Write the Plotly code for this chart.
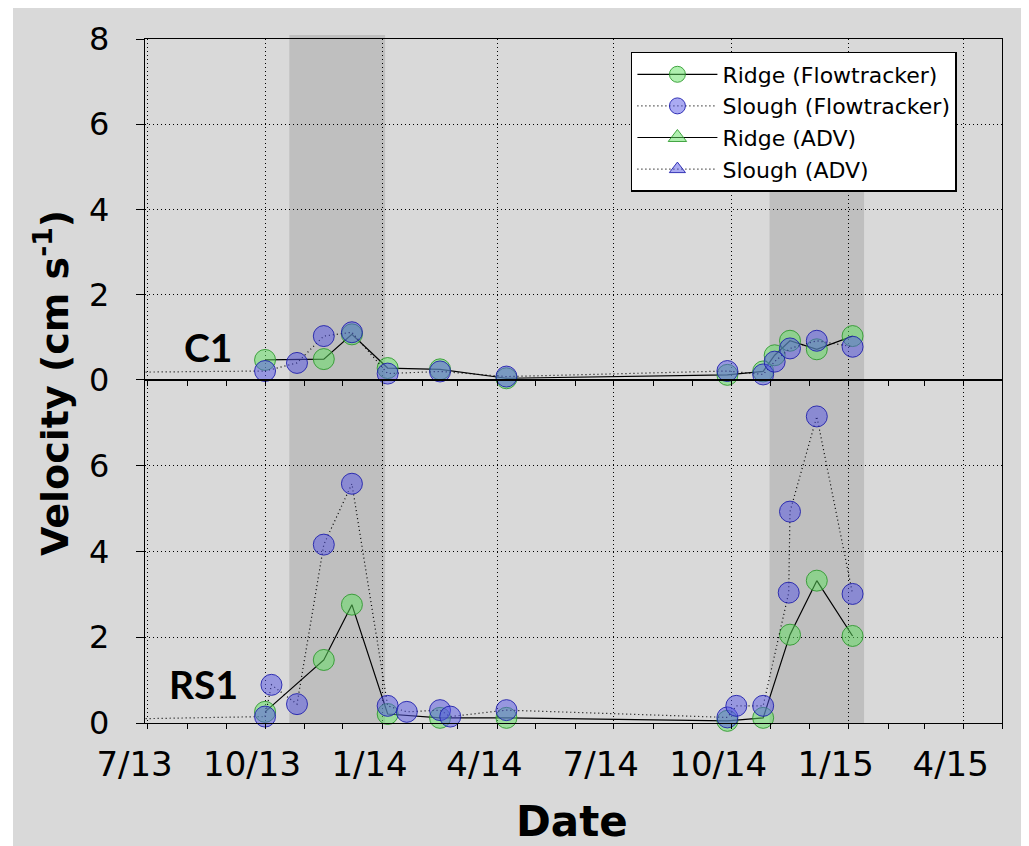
import plotly.graph_objects as go

# ---------------- data ----------------
c1_ridge_dates = ["2013-10-01", "2013-11-16", "2013-12-08", "2014-01-05", "2014-02-15",
                  "2014-04-08", "2014-09-28", "2014-10-26", "2014-11-04", "2014-11-16",
                  "2014-12-07", "2015-01-04"]
c1_ridge_vel = [0.47, 0.49, 1.07, 0.28, 0.25, 0.04, 0.12, 0.20, 0.58, 0.92, 0.72, 1.03]

c1_slough_dates = ["2013-05-01", "2013-10-01", "2013-10-26", "2013-11-16", "2013-12-08",
                   "2014-01-05", "2014-02-15", "2014-04-08", "2014-09-28", "2014-10-26",
                   "2014-11-04", "2014-11-16", "2014-12-07", "2015-01-04"]
c1_slough_vel = [0.17, 0.21, 0.40, 1.03, 1.12, 0.15, 0.20, 0.08, 0.21, 0.13, 0.43, 0.74, 0.92, 0.78]

rs1_ridge_dates = ["2013-10-01", "2013-11-16", "2013-12-08", "2014-01-05", "2014-02-15",
                   "2014-04-08", "2014-09-28", "2014-10-26", "2014-11-16", "2014-12-07",
                   "2015-01-04"]
rs1_ridge_vel = [0.26, 1.47, 2.76, 0.21, 0.12, 0.12, 0.05, 0.12, 2.06, 3.32, 2.03]

rs1_slough_dates = ["2013-05-01", "2013-10-01", "2013-10-06", "2013-10-26", "2013-11-16",
                    "2013-12-08", "2014-01-05", "2014-01-20", "2014-02-15", "2014-02-23",
                    "2014-04-08", "2014-09-28", "2014-10-05", "2014-10-26", "2014-11-15",
                    "2014-11-16", "2014-12-07", "2015-01-04"]
rs1_slough_vel = [0.07, 0.15, 0.89, 0.44, 4.16, 5.58, 0.40, 0.26, 0.30, 0.15, 0.30,
                  0.13, 0.40, 0.40, 3.04, 4.93, 7.15, 3.01]

shade_periods = [("2013-10-20", "2014-01-03"), ("2014-10-31", "2015-01-13")]
shade_tops = [1.006, 0.787]  # paper fraction (second band stops under the legend)

series_names = ["Ridge (Flowtracker)", "Slough (Flowtracker)", "Ridge (ADV)", "Slough (ADV)"]
panel_labels = ["C1", "RS1"]
x_range = ["2013-06-29", "2015-05-01"]

# ---------------- styles ----------------
GREEN_FILL = "rgba(95,225,95,0.50)"
GREEN_LINE = "rgba(40,150,40,0.85)"
BLUE_FILL = "rgba(85,85,230,0.50)"
BLUE_LINE = "rgba(25,25,170,0.85)"
BG = "#d9d9d9"
FONT = "DejaVu Sans"

fig = go.Figure()


def ridge(x, y, xa, ya, name, show):
    return go.Scatter(x=x, y=y, xaxis=xa, yaxis=ya, mode="lines+markers", name=name,
                      showlegend=show, legendrank=1, cliponaxis=False,
                      line=dict(color="black", width=1.2),
                      marker=dict(symbol="circle", size=21, color=GREEN_FILL,
                                  line=dict(color=GREEN_LINE, width=1)))


def slough(x, y, xa, ya, name, show):
    return go.Scatter(x=x, y=y, xaxis=xa, yaxis=ya, mode="lines+markers", name=name,
                      showlegend=show, legendrank=2, cliponaxis=False,
                      line=dict(color="black", width=1.2, dash="1px,3px"),
                      marker=dict(symbol="circle", size=21, color=BLUE_FILL,
                                  line=dict(color=BLUE_LINE, width=1)))


def lead_in(x, y, xa, ya):
    return go.Scatter(x=x, y=y, xaxis=xa, yaxis=ya, mode="lines", showlegend=False,
                      hoverinfo="skip",
                      line=dict(color="black", width=1.2, dash="1px,3px"))


# top panel (C1)
fig.add_trace(lead_in(c1_slough_dates[:2], c1_slough_vel[:2], "x", "y"))
fig.add_trace(ridge(c1_ridge_dates, c1_ridge_vel, "x", "y", series_names[0], True))
fig.add_trace(slough(c1_slough_dates[1:], c1_slough_vel[1:], "x", "y", series_names[1], True))
# bottom panel (RS1)
fig.add_trace(lead_in(rs1_slough_dates[:2], rs1_slough_vel[:2], "x2", "y2"))
fig.add_trace(ridge(rs1_ridge_dates, rs1_ridge_vel, "x2", "y2", series_names[0], False))
fig.add_trace(slough(rs1_slough_dates[1:], rs1_slough_vel[1:], "x2", "y2", series_names[1], False))
# ADV series (legend entries only, no data visible)
fig.add_trace(go.Scatter(x=[None], y=[None], mode="lines+markers", name=series_names[2],
                         legendrank=3, line=dict(color="black", width=1.2),
                         marker=dict(symbol="triangle-up", size=18, color=GREEN_FILL,
                                     line=dict(color=GREEN_LINE, width=1))))
fig.add_trace(go.Scatter(x=[None], y=[None], mode="lines+markers", name=series_names[3],
                         legendrank=4, line=dict(color="black", width=1.2, dash="1px,3px"),
                         marker=dict(symbol="triangle-up", size=14, color=BLUE_FILL,
                                     line=dict(color=BLUE_LINE, width=1))))

# shaded periods
for (x0, x1), top in zip(shade_periods, shade_tops):
    fig.add_shape(type="rect", xref="x2", yref="paper", x0=x0, x1=x1, y0=0, y1=top,
                  fillcolor="#bfbfbf", line=dict(width=0), layer="below")

# thin white strip at the picture's left edge (page margin supplies the rest)
fig.add_shape(type="rect", xref="paper", yref="paper", x0=-0.1599, x1=-0.1540,
              y0=-0.19, y1=1.06, fillcolor="white", line=dict(width=0), layer="below")

xcommon = dict(type="date", range=x_range, tick0="2013-07-01", dtick="M3",
               tickformat="%-m/%y", ticks="outside", ticklen=5, tickwidth=1.2,
               tickcolor="black", showline=True, linecolor="black", linewidth=1.3,
               mirror=True, showgrid=True, gridcolor="black", gridwidth=1,
               griddash="1px,3px", zeroline=False,
               minor=dict(dtick="M1", tick0="2013-07-01", ticks="outside", ticklen=5,
                          tickwidth=1.2, tickcolor="black", showgrid=False))
ycommon = dict(range=[0, 8], ticks="outside", ticklen=8, tickwidth=1.2, tickcolor="black",
               showline=True, linecolor="black", linewidth=1.3, mirror=True,
               showgrid=True, gridcolor="black", gridwidth=1, griddash="1px,3px",
               zeroline=False, tickfont=dict(family=FONT, size=32, color="black"),
               ticklabelstandoff=20)

split = 0.5015
fig.update_layout(
    width=1021, height=838,
    margin=dict(l=137, r=27, t=31, b=123),
    paper_bgcolor=BG, plot_bgcolor=BG,
    font=dict(family=FONT, color="black"),
    xaxis=dict(xcommon, anchor="y", showticklabels=False, matches="x2"),
    xaxis2=dict(xcommon, anchor="y2", tickfont=dict(family=FONT, size=34, color="black"),
                ticklabelshift=-13, ticklabelstandoff=6),
    yaxis=dict(ycommon, domain=[split, 1], anchor="x", tickvals=[0, 2, 4, 6, 8]),
    yaxis2=dict(ycommon, domain=[0, split], anchor="x2", tickvals=[0, 2, 4, 6]),
    legend=dict(x=0.567, y=0.981, xanchor="left", yanchor="top", bgcolor="white",
                bordercolor="black", borderwidth=1.5, traceorder="normal",
                font=dict(family=FONT, size=22, color="black"),
                itemwidth=80, tracegroupgap=0),
    showlegend=True,
    annotations=[
        dict(text="<b>Velocity (cm s<sup>-1</sup>)</b>", xref="paper", yref="paper",
             x=-0.1085, y=0.497, xanchor="center", yanchor="middle", textangle=-90,
             showarrow=False, font=dict(family=FONT, size=38, color="black")),
        dict(text="<b>Date</b>", xref="paper", yref="paper", x=0.498, y=-0.1447,
             xanchor="center", yanchor="middle", showarrow=False,
             font=dict(family=FONT, size=42, color="black")),
        dict(text="<b>" + panel_labels[0] + "</b>", xref="paper", yref="paper",
             x=0.0735, y=0.5497, xanchor="center", yanchor="middle", showarrow=False,
             font=dict(family="Lato", size=39, color="black")),
        dict(text="<b>" + panel_labels[1] + "</b>", xref="paper", yref="paper",
             x=0.0688, y=0.057, xanchor="center", yanchor="middle", showarrow=False,
             font=dict(family="Lato", size=39, color="black")),
    ],
)

fig.write_html("out.html")
